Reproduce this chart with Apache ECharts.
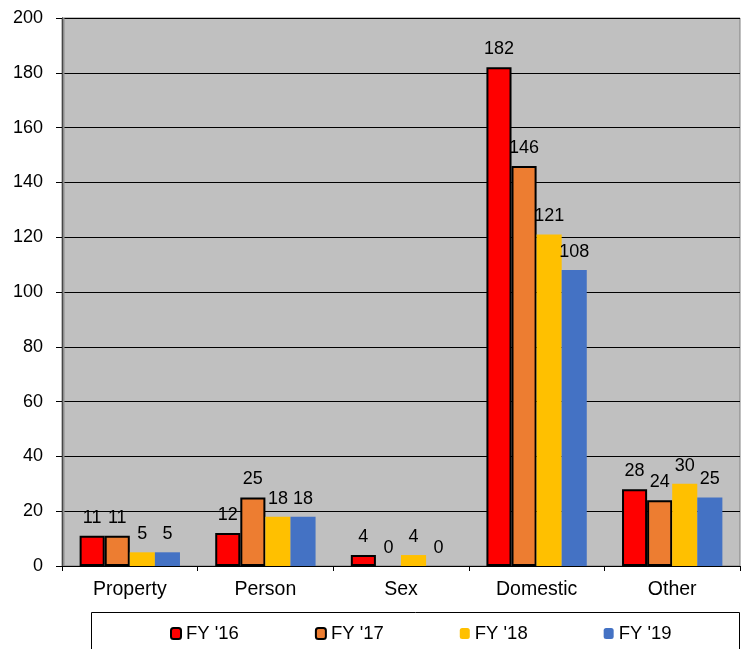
<!DOCTYPE html>
<html><head><meta charset="utf-8">
<script src="https://cdn.jsdelivr.net/npm/echarts@6/dist/echarts.min.js"></script>
<style>html,body{margin:0;padding:0;background:#fff}#c{width:745px;height:649px}</style>
</head><body><div id="c"></div>
<script>
const categories = ['Property', 'Person', 'Sex', 'Domestic', 'Other'];
const seriesNames = ["FY '16", "FY '17", "FY '18", "FY '19"];
const fy16 = [11, 12, 4, 182, 28];
const fy17 = [11, 25, 0, 146, 24];
const fy18 = [5, 18, 4, 121, 30];
const fy19 = [5, 18, 0, 108, 25];
const yTicks = [0, 20, 40, 60, 80, 100, 120, 140, 160, 180, 200];

const FONT = '"Liberation Sans", Arial, sans-serif';
const colors = ['#ff0000', '#ed7d31', '#ffc000', '#4472c4'];
const bordered = [true, true, false, false];
const values = [fy16, fy17, fy18, fy19];

const chart = echarts.init(document.getElementById('c'));
chart.setOption({
  animation: false,
  textStyle: { fontFamily: FONT },
  graphic: [{
    type: 'rect', shape: { x: 91.5, y: 612.5, width: 648, height: 45 },
    style: { fill: 'none', stroke: '#000', lineWidth: 1 }
  }, {
    type: 'line', shape: { x1: 63.5, y1: 18, x2: 63.5, y2: 566 },
    style: { stroke: '#8c8c8c', lineWidth: 2 }, z: 1
  }],
  legend: {
    left: 165, top: 619, itemWidth: 10, itemHeight: 11, itemGap: 76,
    textStyle: { fontSize: 18.5, color: '#000', fontFamily: FONT },
    data: seriesNames
  },
  grid: {
    left: 62, right: 5, top: 18, bottom: 83, show: true,
    backgroundColor: '#c0c0c0', borderColor: '#808080', borderWidth: 1
  },
  xAxis: {
    type: 'category', data: categories,
    axisLine: { lineStyle: { color: '#000', width: 1 } },
    axisTick: { show: true, length: 5, lineStyle: { color: '#000' } },
    axisLabel: { fontSize: 19.5, color: '#000', margin: 14, fontFamily: FONT }
  },
  yAxis: {
    type: 'value', min: 0, max: 200, interval: 20,
    axisLine: { show: true, lineStyle: { color: '#000' } },
    axisTick: { show: true, length: 6, lineStyle: { color: '#000' } },
    axisLabel: { fontSize: 18, color: '#000', margin: 19, fontFamily: FONT,
      formatter: v => yTicks.includes(v) ? String(v) : '' },
    splitLine: { lineStyle: { color: '#000', width: 1 } }
  },
  series: values.map((d, i) => ({
    name: seriesNames[i], type: 'bar',
    data: d.map(v => v === 0 ? { value: v, itemStyle: { borderWidth: 0 } } : v),
    barGap: '0%', barCategoryGap: '26%',
    itemStyle: { color: colors[i], borderColor: bordered[i] ? '#000' : colors[i], borderWidth: bordered[i] ? 2 : 0 },
    label: { show: true, position: 'top', distance: 9, fontSize: 18, color: '#000', fontFamily: FONT }
  }))
});
</script></body></html>
